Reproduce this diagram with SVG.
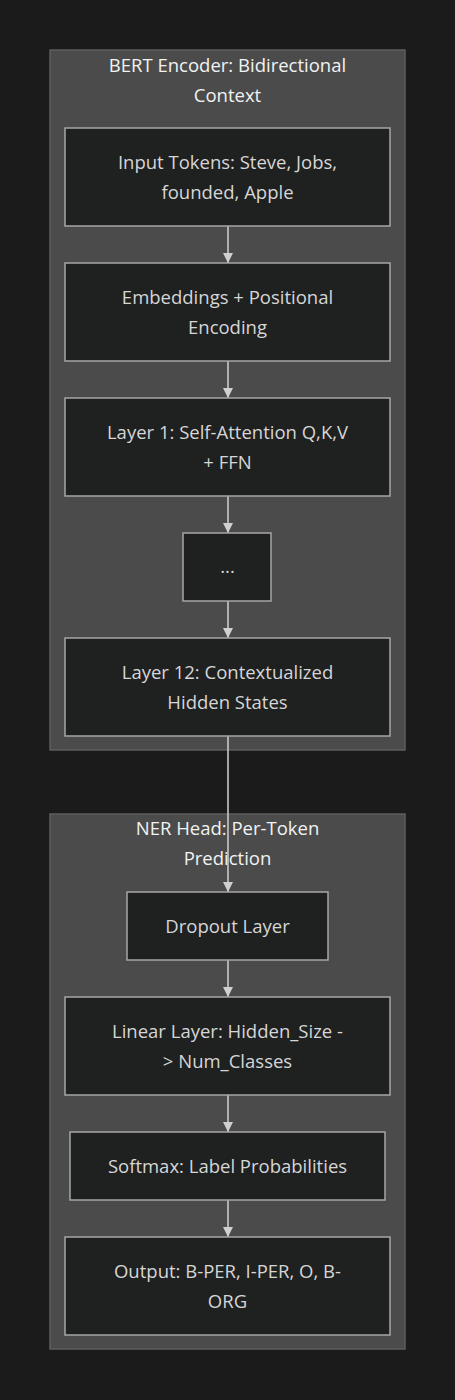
<svg xmlns="http://www.w3.org/2000/svg" width="455" height="1400" viewBox="0 0 455 1400">
<defs>
<style>
.cl{fill:#4a4b4a;stroke:#5c5d5c;stroke-width:1.5}
.nd{fill:#1f2020;stroke:#a6a6a6;stroke-width:1.5}
.ct{font-family:"Open Sans","Noto Sans",sans-serif;font-size:18.5px;fill:#f2f2f2;text-anchor:middle}
.nt{font-family:"Open Sans","Noto Sans",sans-serif;font-size:18.5px;fill:#d6d6d6;text-anchor:middle}
.ed{stroke:#d0d0d0;stroke-width:1.5;fill:none;marker-end:url(#ah)}
</style>
<marker id="ah" viewBox="0 0 10 10" refX="10" refY="5" markerWidth="10" markerHeight="10" markerUnits="userSpaceOnUse" orient="auto">
<path d="M0,0 L10,5 L0,10 z" fill="#d0d0d0"/>
</marker>
</defs>
<rect width="455" height="1400" fill="#1b1b1b"/>
<g id="cluster-bert">
<rect class="cl" x="50" y="50" width="355" height="700"/>
<text class="ct" x="227.5" y="72">BERT Encoder: Bidirectional</text>
<text class="ct" x="227.5" y="102">Context</text>
</g>
<g id="cluster-ner">
<rect class="cl" x="50" y="814" width="355" height="535"/>
<text class="ct" x="227.5" y="835">NER Head: Per-Token</text>
<text class="ct" x="227.5" y="865">Prediction</text>
</g>
<g id="connectors">
<line class="ed" x1="228" y1="226" x2="228" y2="263"/>
<line class="ed" x1="228" y1="361" x2="228" y2="398"/>
<line class="ed" x1="228" y1="496" x2="228" y2="533"/>
<line class="ed" x1="228" y1="601" x2="228" y2="638"/>
<line class="ed" x1="228" y1="736" x2="228" y2="892"/>
<line class="ed" x1="228" y1="960" x2="228" y2="997"/>
<line class="ed" x1="228" y1="1095" x2="228" y2="1132"/>
<line class="ed" x1="228" y1="1200" x2="228" y2="1237"/>
</g>
<g id="node-input">
<rect class="nd" x="65" y="128" width="325" height="98"/>
<text class="nt" x="227.5" y="169">Input Tokens: Steve, Jobs,</text>
<text class="nt" x="227.5" y="199">founded, Apple</text>
</g>
<g id="node-embed">
<rect class="nd" x="65" y="263" width="325" height="98"/>
<text class="nt" x="227.5" y="304">Embeddings + Positional</text>
<text class="nt" x="227.5" y="334">Encoding</text>
</g>
<g id="node-layer1">
<rect class="nd" x="65" y="398" width="325" height="98"/>
<text class="nt" x="227.5" y="439">Layer 1: Self-Attention Q,K,V</text>
<text class="nt" x="227.5" y="469">+ FFN</text>
</g>
<g id="node-dots">
<rect class="nd" x="183" y="533" width="88" height="68"/>
<text class="nt" x="227.5" y="573">...</text>
</g>
<g id="node-layer12">
<rect class="nd" x="65" y="638" width="325" height="98"/>
<text class="nt" x="227.5" y="679">Layer 12: Contextualized</text>
<text class="nt" x="227.5" y="709">Hidden States</text>
</g>
<g id="node-dropout">
<rect class="nd" x="127" y="892" width="201" height="68"/>
<text class="nt" x="227.5" y="933">Dropout Layer</text>
</g>
<g id="node-linear">
<rect class="nd" x="65" y="997" width="325" height="98"/>
<text class="nt" x="227.5" y="1038">Linear Layer: Hidden_Size -</text>
<text class="nt" x="227.5" y="1068">&gt; Num_Classes</text>
</g>
<g id="node-softmax">
<rect class="nd" x="70" y="1132" width="315" height="68"/>
<text class="nt" x="227.5" y="1173">Softmax: Label Probabilities</text>
</g>
<g id="node-output">
<rect class="nd" x="65" y="1237" width="325" height="98"/>
<text class="nt" x="227.5" y="1278">Output: B-PER, I-PER, O, B-</text>
<text class="nt" x="227.5" y="1308">ORG</text>
</g>
</svg>
